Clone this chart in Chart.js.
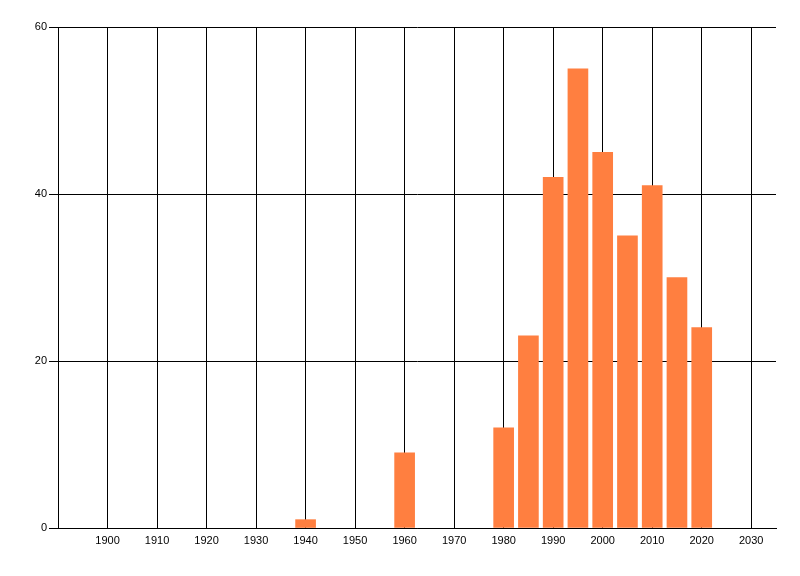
<!DOCTYPE html>
<html>
<head>
<meta charset="utf-8">
<title>Bar chart by year</title>
<script src="https://cdn.jsdelivr.net/npm/chart.js@4.4.1/dist/chart.umd.min.js"></script>
<style>
  html, body { margin: 0; padding: 0; background: #fff; }
  #wrap { width: 800px; height: 576px; }
</style>
</head>
<body>
<div id="wrap"><canvas id="chart" width="800" height="576"></canvas></div>
<script>
  // ---------- data ----------
  const years  = [1940, 1960, 1980, 1985, 1990, 1995, 2000, 2005, 2010, 2015, 2020];
  const counts = [1, 9, 12, 23, 42, 55, 45, 35, 41, 30, 24];
  const xTicks = [1900, 1910, 1920, 1930, 1940, 1950, 1960, 1970, 1980, 1990, 2000, 2010, 2020, 2030];
  const yTicks = [0, 20, 40, 60];

  const font = { family: 'Liberation Sans, Arial, sans-serif', size: 11 };

  new Chart(document.getElementById('chart'), {
    type: 'bar',
    data: {
      datasets: [{
        data: years.map((y, i) => ({ x: y, y: counts[i] })),
        backgroundColor: '#FF7F40',
        borderWidth: 0,
        barThickness: 20
      }]
    },
    options: {
      responsive: false,
      animation: false,
      devicePixelRatio: 1,
      layout: { padding: { top: 27, right: 24, left: 0, bottom: 0 } },
      plugins: { legend: { display: false }, tooltip: { enabled: false } },
      scales: {
        x: {
          type: 'linear',
          min: 1890, max: 2035,
          offset: false,
          afterBuildTicks: s => { s.ticks = xTicks.map(v => ({ value: v })); },
          afterFit: s => { s.height = 48; },
          grid: { color: '#000', lineWidth: 1, drawTicks: false, offset: false },
          border: { color: '#000', width: 1 },
          ticks: { color: '#000', font, padding: 6, maxRotation: 0, autoSkip: false, callback: v => String(v) }
        },
        y: {
          min: 0, max: 60,
          afterBuildTicks: s => { s.ticks = yTicks.map(v => ({ value: v })); },
          afterFit: s => { s.width = 58; },
          grid: { color: '#000', lineWidth: 1, drawTicks: true, tickLength: 9 },
          border: { color: '#000', width: 1 },
          ticks: { color: '#000', font, padding: 2 }
        }
      }
    }
  });
</script>
</body>
</html>
